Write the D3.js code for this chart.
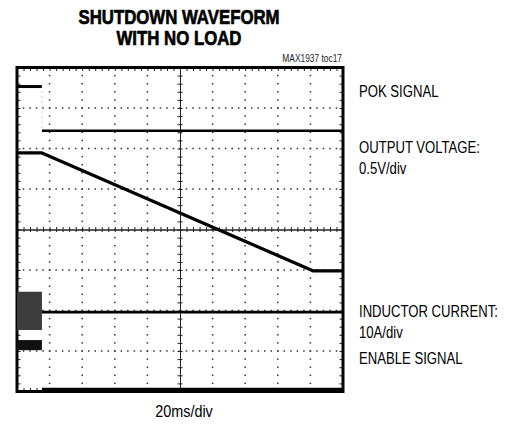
<!DOCTYPE html>
<html>
<head>
<meta charset="utf-8">
<script src="https://cdn.jsdelivr.net/npm/d3@7"></script>
<style>
body { margin: 0; background: #fff; }
text { font-family: "Liberation Sans", Arial, sans-serif; fill: #000; }
</style>
</head>
<body>
<script>
// scope settings: 20ms/div, 10 divs across, 8 divs high (values in divisions)
var timeDomain = [0, 200];
var divDomain = [-4, 4];

// POK signal
var pokHighT = [0, 15.3];
var pokHighV = [3.53, 3.53];
var pokLowT = [15.3, 200];
var pokLowV = [2.44, 2.44];

// output voltage (0.5V/div)
var voutT = [0, 15.3, 181.5, 200];
var voutV = [1.89, 1.89, -1.02, -1.02];

// inductor current (10A/div)
var ilBurstT = [0, 15.3];
var ilBurstLo = [-2.48, -2.48];
var ilBurstHi = [-1.54, -1.54];
var ilT = [15.3, 200];
var ilV = [-2.04, -2.04];

// enable signal
var enHighT = [0, 15.3];
var enHighLo = [-2.98, -2.98];
var enHighHi = [-2.73, -2.73];
var enLowT = [15.3, 200];
var enLowV = [-3.94, -3.94];

var labels = [
	{text: "POK SIGNAL", y: 97},
	{text: "OUTPUT VOLTAGE:", y: 153},
	{text: "0.5V/div", y: 174},
	{text: "INDUCTOR CURRENT:", y: 317},
	{text: "10A/div", y: 338},
	{text: "ENABLE SIGNAL", y: 364}
];

var width = 511, height = 424;
var plotL = 17, plotR = 343, plotT = 67.5, plotB = 391.5;

var svg = d3.select("body").append("svg")
	.attr("width", width)
	.attr("height", height);

var x = d3.scaleLinear().domain(timeDomain).range([plotL, plotR]);
var y = d3.scaleLinear().domain(divDomain).range([plotB, plotT]);

// squeeze text horizontally (condensed look) by scaling around its anchor
function narrow(sel, k) {
	sel.each(function() {
		var t = d3.select(this);
		var tx = +t.attr("x"), ty = +t.attr("y");
		t.attr("x", 0).attr("y", 0)
			.attr("transform", "translate(" + tx + "," + ty + ") scale(" + k + ",1)");
	});
}

// title
svg.append("text")
	.attr("x", 179).attr("y", 24)
	.attr("text-anchor", "middle")
	.attr("font-size", "21px").attr("font-weight", "bold")
	.style("stroke", "#000").style("stroke-width", 0.7)
	.text("SHUTDOWN WAVEFORM")
	.call(narrow, 0.8);
svg.append("text")
	.attr("x", 179).attr("y", 45)
	.attr("text-anchor", "middle")
	.attr("font-size", "21px").attr("font-weight", "bold")
	.style("stroke", "#000").style("stroke-width", 0.7)
	.text("WITH NO LOAD")
	.call(narrow, 0.8);

svg.append("text")
	.attr("x", 342).attr("y", 62)
	.attr("text-anchor", "end")
	.attr("font-size", "10px")
	.style("fill", "#222")
	.text("MAX1937 toc17")
	.call(narrow, 0.84);

// dotted grid
var g = svg.append("g");
var minorT = d3.range(0, 200.01, 4);
var minorV = d3.range(-4, 4.01, 0.2);
var gridT = [20, 40, 60, 80, 120, 140, 160, 180];
var gridV = [-3, -2, -1, 1, 2, 3];

gridT.forEach(function(t) {
	g.selectAll(null).data(minorV).enter().append("rect")
		.attr("x", x(t) - 0.75).attr("y", (d) => y(d) - 0.75)
		.attr("width", 1.5).attr("height", 1.5)
		.attr("fill", "#333");
});
gridV.forEach(function(v) {
	g.selectAll(null).data(minorT).enter().append("rect")
		.attr("x", (d) => x(d) - 0.75).attr("y", y(v) - 0.75)
		.attr("width", 1.5).attr("height", 1.5)
		.attr("fill", "#333");
});

// center crosshair with minor ticks
function minorAxis(axis, vals, size) {
	return axis.tickValues(vals).tickSize(size).tickFormat("");
}
var cx = svg.append("g").attr("transform", "translate(0," + y(0) + ")");
cx.call(minorAxis(d3.axisBottom(x), minorT, 2.5));
cx.append("g").call(minorAxis(d3.axisTop(x), minorT, 2.5));
var cy = svg.append("g").attr("transform", "translate(" + x(100) + ",0)");
cy.call(minorAxis(d3.axisLeft(y), minorV, 2.5));
cy.append("g").call(minorAxis(d3.axisRight(y), minorV, 2.5));

// border ticks
svg.append("g").attr("transform", "translate(0," + plotT + ")")
	.call(minorAxis(d3.axisBottom(x), minorT, 3.5));
svg.append("g").attr("transform", "translate(0," + plotB + ")")
	.call(minorAxis(d3.axisTop(x), minorT, 3.5));
svg.append("g").attr("transform", "translate(" + plotL + ",0)")
	.call(minorAxis(d3.axisRight(y), minorV, 3.5));
svg.append("g").attr("transform", "translate(" + plotR + ",0)")
	.call(minorAxis(d3.axisLeft(y), minorV, 3.5));

svg.selectAll(".domain").attr("stroke", "#222").attr("stroke-width", 1);
svg.selectAll(".tick line").attr("stroke", "#222").attr("stroke-width", 1);

// frame
svg.append("rect")
	.attr("x", plotL).attr("y", plotT)
	.attr("width", plotR - plotL).attr("height", plotB - plotT)
	.attr("fill", "none")
	.attr("stroke", "#000")
	.attr("stroke-width", 3);

// traces
var line = d3.line().x((d) => x(d[0])).y((d) => y(d[1]));
var area = d3.area().x((d) => x(d[0])).y0((d) => y(d[1])).y1((d) => y(d[2]));

function drawLine(ts, vs, w) {
	svg.append("path")
		.datum(d3.zip(ts, vs))
		.attr("d", line)
		.attr("fill", "none")
		.attr("stroke", "#000")
		.attr("stroke-width", w)
		.attr("stroke-linejoin", "round");
}
function drawBand(ts, lo, hi, col) {
	svg.append("path")
		.datum(d3.zip(ts, lo, hi))
		.attr("d", area)
		.attr("fill", col);
}

drawLine(pokHighT, pokHighV, 3);
svg.append("path")
	.datum([[pokHighT[1], pokHighV[1]], [pokLowT[0], pokLowV[0]]])
	.attr("d", line)
	.attr("stroke", "#999").attr("stroke-width", 1)
	.attr("stroke-dasharray", "1,4");
drawLine(pokLowT, pokLowV, 2.5);
drawLine(voutT, voutV, 3.2);
drawBand(ilBurstT, ilBurstLo, ilBurstHi, "#3c3c3c");
drawLine(ilT, ilV, 2.8);
drawBand(enHighT, enHighLo, enHighHi, "#111");
drawLine(enLowT, enLowV, 2.5);

// channel labels
svg.selectAll(".label")
	.data(labels)
	.enter().append("text")
	.attr("class", "label")
	.attr("x", 359)
	.attr("y", (d) => d.y)
	.attr("font-size", "16px")
	.text((d) => d.text)
	.call(narrow, 0.82);

svg.append("text")
	.attr("x", 184).attr("y", 417)
	.attr("text-anchor", "middle")
	.attr("font-size", "16px")
	.text("20ms/div")
	.call(narrow, 0.9);
</script>
</body>
</html>
